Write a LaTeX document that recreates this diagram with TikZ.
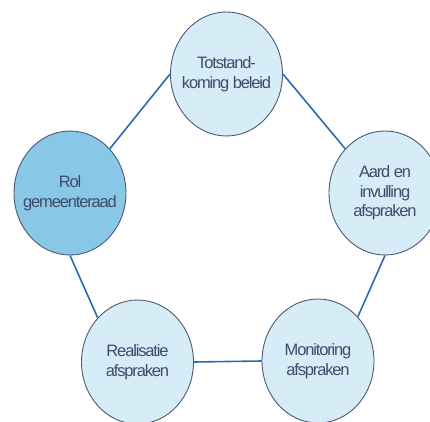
\documentclass[tikz,border=0pt]{standalone}
\usepackage{fontspec}
\setmainfont[LetterSpace=-7]{Liberation Sans}
\usetikzlibrary{shapes.geometric}

\definecolor{phasefill}{HTML}{D6EDF7}
\definecolor{rolefill}{HTML}{88C8E6}
\definecolor{rimcol}{HTML}{4B5877}
\definecolor{linkcol}{HTML}{2D6BAA}
\definecolor{textcol}{HTML}{3F4B6B}

\tikzstyle{caption}=[align=center,text=textcol,inner sep=0pt,font=\fontsize{16.5}{19.5}\selectfont]
\tikzstyle{phase}=[draw=rimcol,fill=phasefill,ellipse,line width=0.9pt,minimum width=112pt,minimum height=124pt,inner sep=0pt]
\tikzstyle{role}=[phase,fill=rolefill]
\tikzstyle{link} = [draw,line width=1.6pt,linkcol,-]

\begin{document}
\begin{tikzpicture}[x=1pt, y=1pt]
    \useasboundingbox (0,0) rectangle (430,421);
    % First we draw the circles
    \foreach \pos/\name/\kind/\txt in {{(226.5,347)/top/phase/{Totstand-\\koming beleid}},
        {(70,228)/left/role/{Rol\\gemeenteraad}},
        {(385,228)/right/phase/{Aard en\\invulling\\afspraken}},
        {(137.5,59)/botleft/phase/{Realisatie\\afspraken}},
        {(318,60)/botright/phase/{Monitoring\\afspraken}}}
        \node[\kind, label={[caption]center:\txt}] (\name) at \pos {};
    % Connect circles with lines
    \foreach \source/ \dest in {top.west/left.48,top.east/right.132,left.south/botleft.132,right.south/botright.48,botleft.east/botright.west}
        \path[link] (\source) -- (\dest);
\end{tikzpicture}
\end{document}
